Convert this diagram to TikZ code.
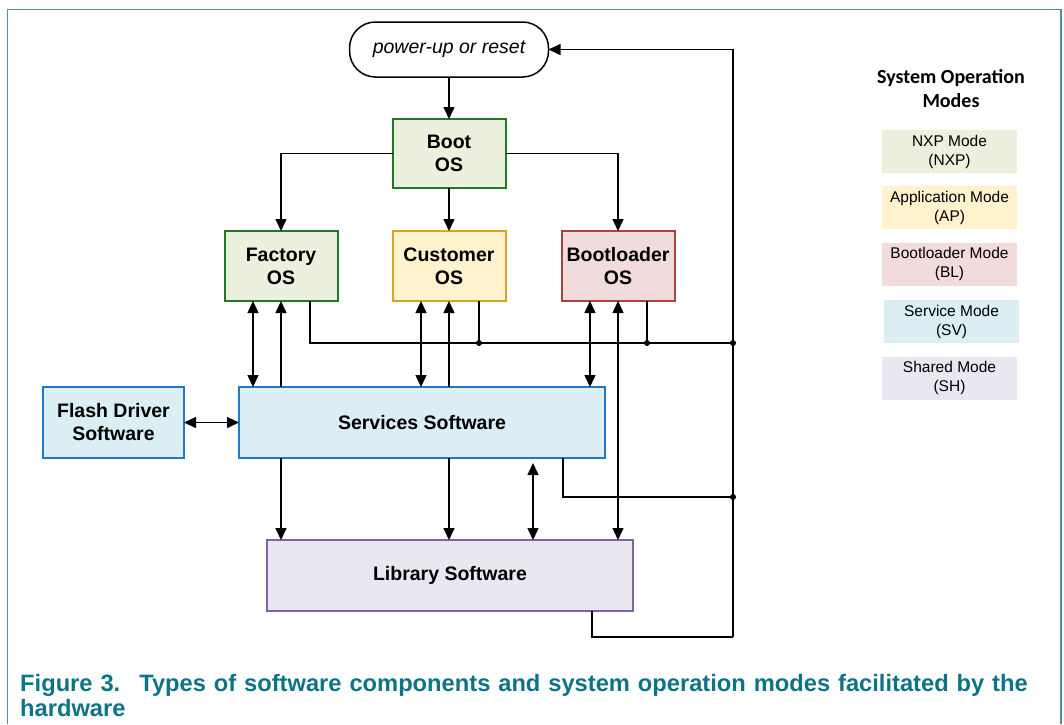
\documentclass[tikz,border=0pt]{standalone}
\usepackage{fontspec}
\setmainfont{Liberation Sans}
\newfontfamily\legendfont{Carlito}
\usetikzlibrary{arrows.meta}
\usetikzlibrary{positioning}
\definecolor{nxpfill}{HTML}{EBF1DE}
\definecolor{nxpdraw}{HTML}{1F7A24}
\definecolor{apfill}{HTML}{FFF2CC}
\definecolor{apdraw}{HTML}{D6A524}
\definecolor{blfill}{HTML}{F2DCDB}
\definecolor{bldraw}{HTML}{A8433F}
\definecolor{svfill}{HTML}{DAEEF3}
\definecolor{svdraw}{HTML}{1C7AC6}
\definecolor{shfill}{HTML}{EBE7F0}
\definecolor{shdraw}{HTML}{8064A2}
\definecolor{framecol}{HTML}{4A8D9E}
\definecolor{captioncol}{HTML}{0E7388}

\begin{document}
\begin{tikzpicture}[x=1pt, y=-1pt, align=center]

\tikzstyle{startstop} = [rectangle, rounded corners=26pt, minimum width=199pt, minimum height=55pt, inner sep=0pt, outer sep=0pt, draw=black, line width=1.5pt, font=\fontsize{19.5}{23}\selectfont\itshape]
\tikzstyle{osbox} = [rectangle, minimum width=113pt, minimum height=70pt, inner sep=0pt, outer sep=0pt, line width=2pt, font=\fontsize{19.5}{23}\selectfont\bfseries]
\tikzstyle{swbox} = [rectangle, minimum height=71pt, inner sep=0pt, outer sep=0pt, line width=2pt, font=\fontsize{19.5}{23}\selectfont\bfseries]
\tikzstyle{modebox} = [rectangle, minimum width=135pt, minimum height=43pt, inner sep=0pt, font=\fontsize{15.5}{19}\selectfont]
\tikzstyle{arrow} = [line width=1.5pt, -{Triangle[length=12pt,width=11pt]}]
\tikzstyle{dblarrow} = [line width=1.5pt, {Triangle[length=12pt,width=11pt]}-{Triangle[length=12pt,width=11pt]}]
\tikzstyle{wire} = [line width=1.5pt]
\tikzstyle{junction} = [circle, fill=black, inner sep=0pt, minimum size=6pt]

\useasboundingbox (0,0) rectangle (1064,724);
\draw [framecol, line width=1.3pt] (7.5,724) -- (7.5,9.5) -- (1061,9.5) -- (1061,724);

\node (powerup) [startstop] at (449,49.5) {power-up or reset};
\node (boot) [osbox, fill=nxpfill, draw=nxpdraw, minimum height=69pt, below=42pt of powerup] {Boot\\OS};
\node (customer) [osbox, fill=apfill, draw=apdraw, below=43pt of boot] {Customer\\OS};
\node (factory) [osbox, fill=nxpfill, draw=nxpdraw, left=55pt of customer] {Factory\\OS};
\node (bootloader) [osbox, fill=blfill, draw=bldraw, right=56pt of customer] {Bootloader\\OS};
\node (services) [swbox, fill=svfill, draw=svdraw, minimum width=366pt] at (422,422.5) {Services Software};
\node (flash) [swbox, fill=svfill, draw=svdraw, minimum width=141pt, left=55pt of services] {Flash Driver\\Software};
\node (library) [swbox, fill=shfill, draw=shdraw, minimum width=366pt] at (450,575.5) {Library Software};

\coordinate (busA) at (733,343);
\coordinate (busB) at (733,497);
\coordinate (rbot) at (733,637);
\coordinate (lnk) at (533,463);

\draw [arrow] (powerup) -- (boot);
\draw [arrow] (boot.west) -| (factory.north);
\draw [arrow] (boot) -- (customer);
\draw [arrow] (boot.east) -| (bootloader.north);

\draw [dblarrow] (factory.south -| 253,0) -- (services.north -| 253,0);
\draw [arrow] (services.north -| factory.south) -- (factory.south);
\draw [dblarrow] (customer.south -| 421,0) -- (services.north -| 421,0);
\draw [arrow] (services.north -| customer.south) -- (customer.south);
\draw [dblarrow] (bootloader.south -| 590,0) -- (services.north -| 590,0);
\draw [dblarrow] (bootloader.south) -- (library.north -| bootloader.south);
\draw [dblarrow] (flash) -- (services);

\draw [arrow] (services.south -| 281,0) -- (library.north -| 281,0);
\draw [arrow] (services.south -| 449,0) -- (library.north -| 449,0);
\draw [dblarrow] (lnk) -- (library.north -| lnk);

\draw [wire] (factory.south -| 310,0) |- (busA);
\draw [wire] (customer.south -| 479,0) -- (busA -| 479,0);
\draw [wire] (bootloader.south -| 647,0) -- (busA -| 647,0);
\draw [wire] (services.south -| 563,0) |- (busB);
\draw [wire] (library.south -| 592,0) |- (rbot);
\draw [arrow] (rbot) -- (powerup.east -| rbot) -- (powerup.east);

\node (j1) [junction] at (busA -| 479,0) {};
\node (j2) [junction] at (busA -| 647,0) {};
\node (j3) [junction] at (busA) {};
\node (j4) [junction] at (busB) {};

\node (legendtitle) [font=\legendfont\bfseries\fontsize{20}{24}\selectfont] at (951,89) {System Operation\\Modes};
\node (nxpmode) [modebox, fill=nxpfill] at (949.5,151.5) {NXP Mode\\(NXP)};
\node (apmode) [modebox, fill=apfill, below=13pt of nxpmode] {Application Mode\\(AP)};
\node (blmode) [modebox, fill=blfill, below=13pt of apmode] {Bootloader Mode\\(BL)};
\node (svmode) [modebox, fill=svfill, below=14pt of blmode, xshift=2pt] {Service Mode\\(SV)};
\node (shmode) [modebox, fill=shfill, below=13pt of svmode, xshift=-2pt] {Shared Mode\\(SH)};

\node (caption) [anchor=north west, text width=1040pt, align=left, inner sep=0pt, text=captioncol, font=\fontsize{23.7}{25}\selectfont\bfseries] at (20,674) {Figure 3.\hspace{19pt}Types of software components and system operation modes facilitated by the\\hardware};
\end{tikzpicture}
\end{document}
